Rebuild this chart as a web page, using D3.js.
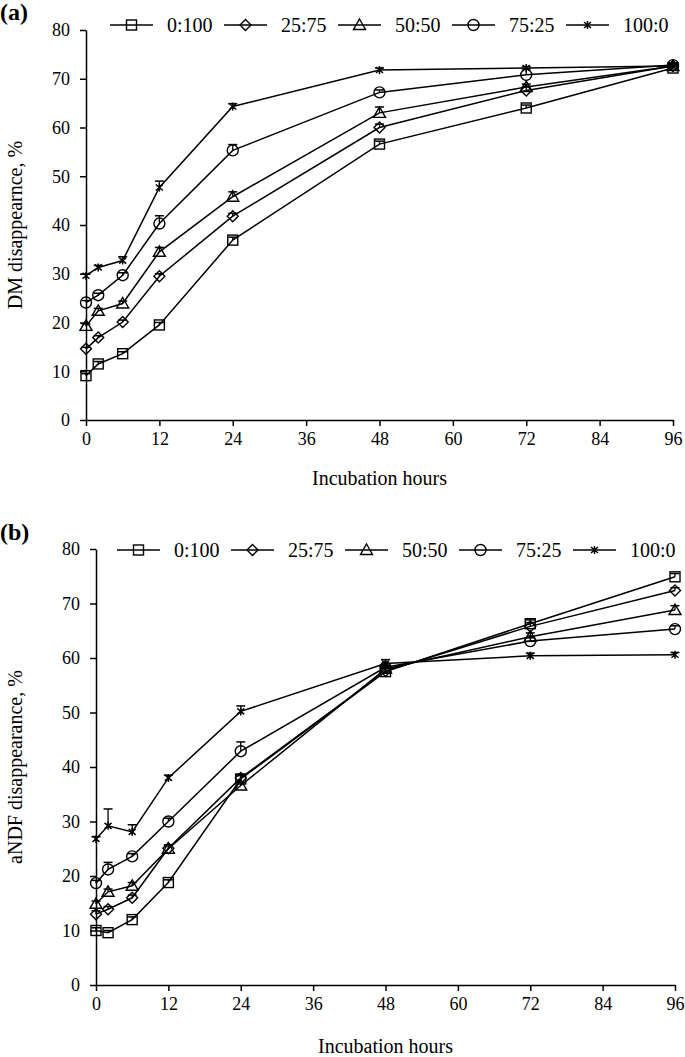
<!DOCTYPE html>
<html>
<head>
<meta charset="utf-8">
<script src="https://cdn.jsdelivr.net/npm/d3@7"></script>
<style>
  html, body { margin: 0; padding: 0; background: #fff; }
  svg { display: block; }
  text { font-family: "Liberation Serif", "Times New Roman", serif; fill: #000; }
</style>
</head>
<body>
<svg id="chart" width="685" height="1057"></svg>
<script>
// ---------------- DATA ----------------
const hours = [0, 2, 6, 12, 24, 48, 72, 96];
const seriesNames = ["0:100", "25:75", "50:50", "75:25", "100:0"];
const xTicks = [0, 12, 24, 36, 48, 60, 72, 84, 96];
const yTicks = [0, 10, 20, 30, 40, 50, 60, 70, 80];

// (a) DM disappearance, %
const dm_0_100  = [9.1, 11.5, 13.6, 19.5, 36.9, 56.6, 64.0, 72.2];
const dm_25_75  = [14.6, 16.9, 20.1, 29.5, 41.8, 60.0, 67.6, 72.6];
const dm_50_50  = [19.3, 22.4, 23.9, 34.5, 45.8, 63.0, 68.3, 72.6];
const dm_75_25  = [24.1, 25.6, 29.7, 40.3, 55.3, 67.2, 70.8, 72.8];
const dm_100_0  = [29.6, 31.3, 32.7, 47.7, 64.3, 71.8, 72.2, 72.6];
const dmErr_0_100 = [0.4, 0.5, 0.4, 0.5, 0.6, 0.6, 0.6, 0.4];
const dmErr_25_75 = [0.3, 0.4, 0.4, 0.5, 0.6, 0.7, 0.8, 0.4];
const dmErr_50_50 = [0.4, 0.5, 0.5, 0.9, 1.0, 1.2, 0.6, 0.4];
const dmErr_75_25 = [0.4, 0.4, 0.5, 1.6, 1.2, 0.5, 1.2, 0.4];
const dmErr_100_0 = [0.3, 0.4, 0.8, 1.3, 0.6, 0.4, 0.3, 0.4];

// (b) aNDF disappearance, %
const ndf_0_100 = [10.0, 9.6, 12.0, 18.8, 37.8, 57.5, 66.3, 74.9];
const ndf_25_75 = [13.0, 13.9, 16.0, 25.1, 38.0, 57.6, 65.8, 72.4];
const ndf_50_50 = [14.9, 17.1, 18.2, 25.0, 36.6, 58.0, 63.9, 68.8];
const ndf_75_25 = [18.7, 21.2, 23.6, 30.0, 42.9, 58.3, 63.1, 65.3];
const ndf_100_0 = [26.8, 29.2, 28.1, 38.0, 50.2, 59.0, 60.4, 60.6];
const ndfErr_0_100 = [0.5, 0.4, 0.5, 0.5, 0.6, 0.6, 0.7, 0.6];
const ndfErr_25_75 = [0.6, 0.5, 0.5, 0.6, 0.6, 0.6, 0.7, 0.5];
const ndfErr_50_50 = [0.5, 0.5, 0.6, 0.6, 0.6, 0.6, 0.7, 0.8];
const ndfErr_75_25 = [0.5, 1.3, 0.5, 0.6, 1.7, 0.6, 0.6, 0.6];
const ndfErr_100_0 = [0.4, 3.1, 1.3, 0.5, 1.0, 0.7, 0.5, 0.4];

const markerTypes = ["square", "diamond", "triangle", "circle", "star"];

// ---------------- DRAW ----------------
const svg = d3.select("#chart");
const FONT = "'Liberation Serif', 'Times New Roman', serif";

function marker(g, type, cx, cy) {
  const m = g.append("g").attr("transform", `translate(${cx},${cy})`)
    .attr("fill", "none").attr("stroke", "#000").attr("stroke-width", 1.4);
  if (type === "square") {
    m.append("rect").attr("x", -5).attr("y", -5).attr("width", 10).attr("height", 10);
  } else if (type === "diamond") {
    m.append("path").attr("d", "M0,-5.5L5.5,0L0,5.5L-5.5,0Z");
  } else if (type === "triangle") {
    m.append("path").attr("d", "M0,-6L6,4.5L-6,4.5Z");
  } else if (type === "circle") {
    m.append("circle").attr("r", 5.5);
  } else {
    m.append("path").attr("d", "M0,-4L0,4M-3.5,-3L3.5,3M-3.5,3L3.5,-3").attr("stroke-width", 1.5);
  }
}

function panel(cfg) {
  const x = d3.scaleLinear().domain([0, 96]).range([cfg.x0, cfg.x1]);
  const y = d3.scaleLinear().domain([0, 80]).range([cfg.y0, cfg.y1]);
  const g = svg.append("g");

  // axes
  const xAxis = g.append("g").attr("transform", `translate(0,${cfg.y0})`)
    .call(d3.axisBottom(x).tickValues(xTicks).tickSize(6).tickPadding(6).tickSizeOuter(0));
  const yAxis = g.append("g").attr("transform", `translate(${cfg.x0},0)`)
    .call(d3.axisLeft(y).tickValues(yTicks).tickSize(6).tickPadding(10).tickSizeOuter(0));
  [xAxis, yAxis].forEach(a => {
    a.attr("font-family", FONT);
    a.select(".domain").attr("stroke", "#000").attr("stroke-width", 1.5);
    a.selectAll(".tick line").attr("stroke", "#000").attr("stroke-width", 1.5);
    a.selectAll(".tick text").attr("font-family", FONT).attr("font-size", 18).attr("fill", "#000");
  });

  // lines
  const line = d3.line().x((d, i) => x(hours[i])).y(d => y(d));
  cfg.series.forEach((vals, s) => {
    g.append("path").datum(vals).attr("d", line)
      .attr("fill", "none").attr("stroke", "#000").attr("stroke-width", 1.5);
  });
  // error bars (upper)
  cfg.series.forEach((vals, s) => {
    vals.forEach((v, i) => {
      const e = cfg.errs[s][i];
      const cx = x(hours[i]);
      g.append("line").attr("x1", cx).attr("x2", cx).attr("y1", y(v)).attr("y2", y(v + e))
        .attr("stroke", "#000").attr("stroke-width", 1.3);
      g.append("line").attr("x1", cx - 4.5).attr("x2", cx + 4.5).attr("y1", y(v + e)).attr("y2", y(v + e))
        .attr("stroke", "#000").attr("stroke-width", 1.5);
    });
  });
  // markers
  cfg.series.forEach((vals, s) => {
    vals.forEach((v, i) => marker(g, markerTypes[s], x(hours[i]), y(v)));
  });

  // legend
  seriesNames.forEach((name, s) => {
    const lx = cfg.legX + s * 114;
    const ly = cfg.legY;
    g.append("line").attr("x1", lx).attr("x2", lx + 43).attr("y1", ly).attr("y2", ly)
      .attr("stroke", "#000").attr("stroke-width", 1.5);
    marker(g, markerTypes[s], lx + 21.5, ly);
    g.append("text").attr("x", lx + 57).attr("y", ly + 7)
      .attr("font-size", 20).text(name);
  });

  // titles
  g.append("text").attr("x", (cfg.x0 + cfg.x1) / 2).attr("y", cfg.xTitleY)
    .attr("text-anchor", "middle").attr("font-size", 20).text("Incubation hours");
  g.append("text").attr("transform", `translate(${cfg.yTitleX},${(cfg.y0 + cfg.y1) / 2}) rotate(-90)`)
    .attr("text-anchor", "middle").attr("font-size", 20).text(cfg.yTitle);
  g.append("text").attr("x", 0).attr("y", cfg.labelY)
    .attr("font-size", 24).attr("font-weight", "bold").text(cfg.label);
}

panel({
  x0: 86, x1: 673, y0: 420, y1: 30,
  series: [dm_0_100, dm_25_75, dm_50_50, dm_75_25, dm_100_0],
  errs: [dmErr_0_100, dmErr_25_75, dmErr_50_50, dmErr_75_25, dmErr_100_0],
  legX: 110, legY: 25, xTitleY: 485, yTitleX: 22,
  yTitle: "DM disappearnce, %", label: "(a)", labelY: 20
});
panel({
  x0: 96, x1: 675, y0: 985, y1: 549,
  series: [ndf_0_100, ndf_25_75, ndf_50_50, ndf_75_25, ndf_100_0],
  errs: [ndfErr_0_100, ndfErr_25_75, ndfErr_50_50, ndfErr_75_25, ndfErr_100_0],
  legX: 117, legY: 550, xTitleY: 1053, yTitleX: 22,
  yTitle: "aNDF disappearance, %", label: "(b)", labelY: 540
});
</script>
</body>
</html>
